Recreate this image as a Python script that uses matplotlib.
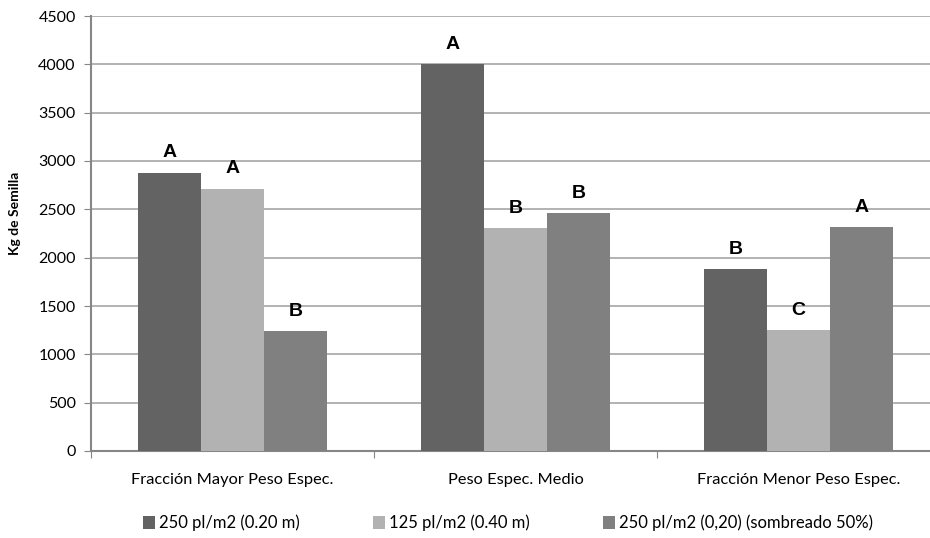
import matplotlib.pyplot as plt
import numpy as np
from matplotlib.patches import Patch

categories = ['Fracción Mayor Peso Espec.', 'Peso Espec. Medio', 'Fracción Menor Peso Espec.']
series_names = ['250 pl/m2 (0.20 m)', '125 pl/m2 (0.40 m)', '250 pl/m2 (0,20) (sombreado 50%)']
dens_250 = [2880, 4005, 1880]
dens_125 = [2715, 2305, 1250]
dens_250_sombra = [1240, 2465, 2320]
letters_250 = ['A', 'A', 'B']
letters_125 = ['A', 'B', 'C']
letters_sombra = ['B', 'B', 'A']

colors = ['#636363', '#b2b2b2', '#808080']
grid_color = '#a6a6a6'
axis_color = '#868686'
font = 'Lato'

fig = plt.figure(figsize=(9.3, 5.38), dpi=100)
ax = fig.add_axes([91 / 930, 87 / 538, 849 / 930, 435 / 538])

x = np.arange(len(categories))
w = 0.222
all_series = [dens_250, dens_125, dens_250_sombra]
all_letters = [letters_250, letters_125, letters_sombra]
for i, (vals, lets) in enumerate(zip(all_series, all_letters)):
    pos = x + (i - 1) * w
    ax.bar(pos, vals, width=w, color=colors[i], zorder=3)
    for px_, v, l in zip(pos, vals, lets):
        ax.annotate(l, (px_, v), xytext=(0, 8), textcoords='offset points',
                    ha='center', va='bottom', fontsize=14, fontweight='bold',
                    family='Liberation Sans', zorder=4)

ax.set_xlim(-0.5, 2.5)
ax.set_ylim(0, 4500)
ax.set_yticks(range(0, 4501, 500))
ax.yaxis.grid(True, color=grid_color, linewidth=1.2, zorder=0)
ax.set_axisbelow(True)

ax.set_xticks([-0.5, 0.5, 1.5, 2.5])
ax.set_xticklabels([])
ax.set_xticks(x, minor=True)
ax.set_xticklabels(categories, minor=True, fontsize=11.8, family=font)
ax.tick_params(axis='x', which='minor', length=0, pad=16)
ax.tick_params(axis='x', which='major', length=5, color=axis_color, direction='out')
ax.tick_params(axis='y', length=5, color=axis_color, labelsize=11.5, pad=6)
for lbl in ax.get_yticklabels():
    lbl.set_family(font)

for side in ['top', 'right']:
    ax.spines[side].set_visible(False)
for side in ['left', 'bottom']:
    ax.spines[side].set_color(axis_color)
    ax.spines[side].set_linewidth(1.5)

ax.set_ylabel('Kg de Semilla', fontsize=10, fontweight='bold', family=font)
ax.yaxis.set_label_coords(-0.082, 0.547)

handles = [Patch(facecolor=c, edgecolor='none') for c in colors]
fig.legend(handles, series_names, loc='center', bbox_to_anchor=(508 / 930, 1 - 523 / 538),
           ncol=3, frameon=False, prop={'family': font, 'size': 12},
           handlelength=0.75, handleheight=0.75, handletextpad=0.25, columnspacing=4.35,
           borderpad=0, borderaxespad=0)

fig.savefig('out.png', dpi=100)
